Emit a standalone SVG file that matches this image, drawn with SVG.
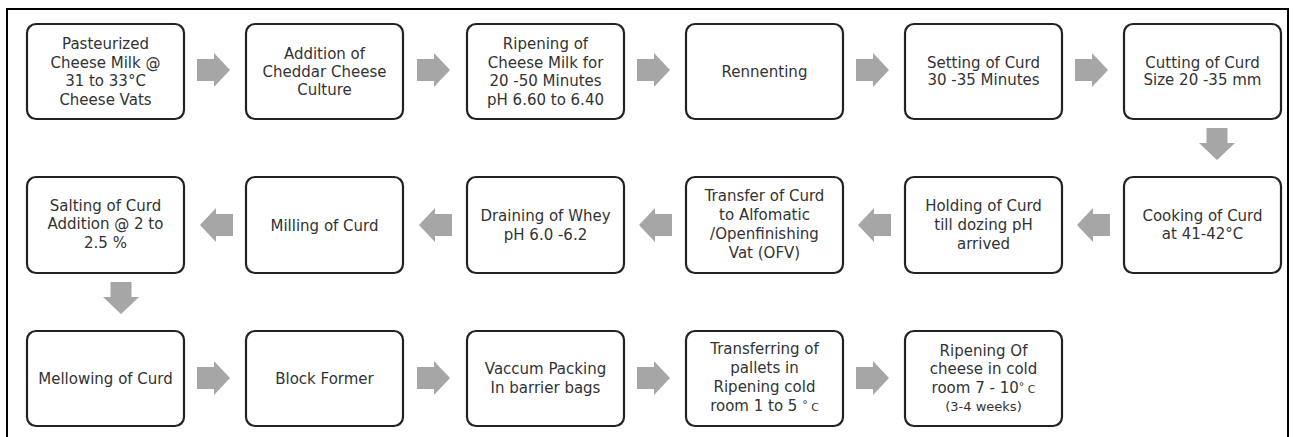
<svg xmlns="http://www.w3.org/2000/svg" width="1294" height="437" viewBox="0 0 1294 437">
<defs>
<style>
.box{fill:#fff;stroke:#222;stroke-width:2.2;}
.t{font-family:"DejaVu Sans",Verdana,sans-serif;font-size:15px;fill:#333;text-anchor:middle;}
.s{font-size:11px;}
.m{font-size:13px;}
.arr{fill:#a6a6a6;}
.frame{fill:none;stroke:#000;stroke-width:2;}
</style>
<path id="ar" d="M-17,-11 H0 V-17 L16,0 L0,17 V11 H-17 Z"/>
<path id="ad" d="M-10.5,-16 H10.5 V-1 H18 L0,16 L-18,-1 H-10.5 Z"/>
</defs>
<rect width="1294" height="437" fill="#fff"/>
<path class="frame" d="M7,437 V9 H1288 V437"/>

<g id="connectors" class="arr">
<use href="#ar" x="214" y="70"/>
<use href="#ar" x="434" y="70"/>
<use href="#ar" x="654" y="70"/>
<use href="#ar" x="873" y="70"/>
<use href="#ar" x="1092" y="70"/>
<use href="#ad" x="1217" y="144"/>
<use href="#ar" transform="translate(1093,225) rotate(180)"/>
<use href="#ar" transform="translate(874,225) rotate(180)"/>
<use href="#ar" transform="translate(655,225) rotate(180)"/>
<use href="#ar" transform="translate(435,225) rotate(180)"/>
<use href="#ar" transform="translate(216,225) rotate(180)"/>
<use href="#ad" x="121" y="298"/>
<use href="#ar" x="214" y="378"/>
<use href="#ar" x="434" y="378"/>
<use href="#ar" x="654" y="378"/>
<use href="#ar" x="873" y="378"/>
</g>

<g id="n1"><rect class="box" x="27" y="24" width="157" height="95" rx="9"/>
<text class="t"><tspan x="105.5" y="49">Pasteurized</tspan><tspan x="105.5" y="67.5">Cheese Milk @</tspan><tspan x="105.5" y="86">31 to 33°C</tspan><tspan x="105.5" y="104.5">Cheese Vats</tspan></text></g>
<g id="n2"><rect class="box" x="246" y="24" width="157" height="95" rx="9"/>
<text class="t"><tspan x="324.5" y="58.5">Addition of</tspan><tspan x="324.5" y="76.5">Cheddar Cheese</tspan><tspan x="324.5" y="94.5">Culture</tspan></text></g>
<g id="n3"><rect class="box" x="467" y="24" width="157" height="95" rx="9"/>
<text class="t"><tspan x="545.5" y="49">Ripening of</tspan><tspan x="545.5" y="67.5">Cheese Milk for</tspan><tspan x="545.5" y="86">20 -50 Minutes</tspan><tspan x="545.5" y="104.5">pH 6.60 to 6.40</tspan></text></g>
<g id="n4"><rect class="box" x="686" y="24" width="157" height="95" rx="9"/>
<text class="t" x="764.5" y="77">Rennenting</text></g>
<g id="n5"><rect class="box" x="905" y="24" width="157" height="95" rx="9"/>
<text class="t"><tspan x="983.5" y="67.5">Setting of Curd</tspan><tspan x="983.5" y="85">30 -35 Minutes</tspan></text></g>
<g id="n6"><rect class="box" x="1124" y="24" width="157" height="95" rx="9"/>
<text class="t"><tspan x="1202.5" y="67.5">Cutting of Curd</tspan><tspan x="1202.5" y="85">Size 20 -35 mm</tspan></text></g>

<g id="n7"><rect class="box" x="1124" y="177" width="157" height="96" rx="9"/>
<text class="t"><tspan x="1202.5" y="220.5">Cooking of Curd</tspan><tspan x="1202.5" y="239">at 41-42°C</tspan></text></g>
<g id="n8"><rect class="box" x="905" y="177" width="157" height="96" rx="9"/>
<text class="t"><tspan x="983.5" y="211">Holding of Curd</tspan><tspan x="983.5" y="230">till dozing pH</tspan><tspan x="983.5" y="248.5">arrived</tspan></text></g>
<g id="n9"><rect class="box" x="686" y="177" width="157" height="96" rx="9"/>
<text class="t"><tspan x="764.5" y="201">Transfer of Curd</tspan><tspan x="764.5" y="220">to Alfomatic</tspan><tspan x="764.5" y="239">/Openfinishing</tspan><tspan x="764.5" y="258">Vat (OFV)</tspan></text></g>
<g id="n10"><rect class="box" x="467" y="177" width="157" height="96" rx="9"/>
<text class="t"><tspan x="545.5" y="220.5">Draining of Whey</tspan><tspan x="545.5" y="240">pH 6.0 -6.2</tspan></text></g>
<g id="n11"><rect class="box" x="246" y="177" width="157" height="96" rx="9"/>
<text class="t" x="324.5" y="230.5">Milling of Curd</text></g>
<g id="n12"><rect class="box" x="27" y="177" width="157" height="96" rx="9"/>
<text class="t"><tspan x="105.5" y="210.5">Salting of Curd</tspan><tspan x="105.5" y="229">Addition @ 2 to</tspan><tspan x="105.5" y="247.5">2.5 %</tspan></text></g>

<g id="n13"><rect class="box" x="27" y="331" width="157" height="95" rx="9"/>
<text class="t" x="105.5" y="384">Mellowing of Curd</text></g>
<g id="n14"><rect class="box" x="246" y="331" width="157" height="95" rx="9"/>
<text class="t" x="324.5" y="384">Block Former</text></g>
<g id="n15"><rect class="box" x="467" y="331" width="157" height="95" rx="9"/>
<text class="t"><tspan x="545.5" y="374">Vaccum Packing</tspan><tspan x="545.5" y="392.5">In barrier bags</tspan></text></g>
<g id="n16"><rect class="box" x="686" y="331" width="157" height="95" rx="9"/>
<text class="t"><tspan x="764.5" y="354">Transferring of</tspan><tspan x="764.5" y="373">pallets in</tspan><tspan x="764.5" y="392">Ripening cold</tspan><tspan x="764.5" y="411">room 1 to 5 <tspan class="s" dy="-3">°</tspan><tspan class="s" dy="3"> C</tspan></tspan></text></g>
<g id="n17"><rect class="box" x="905" y="331" width="157" height="95" rx="9"/>
<text class="t"><tspan x="983.5" y="355.5">Ripening Of</tspan><tspan x="983.5" y="374">cheese in cold</tspan><tspan x="983.5" y="392.5">room 7 - 10<tspan class="s" dy="-3">°</tspan><tspan class="s" dy="3"> C</tspan></tspan><tspan class="m" x="983.5" y="411">(3-4 weeks)</tspan></text></g>
</svg>
